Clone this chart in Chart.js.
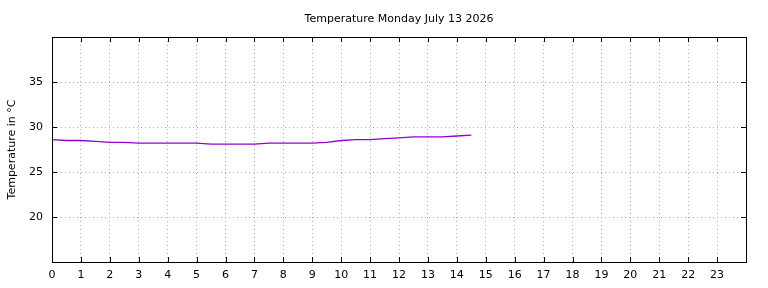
<!DOCTYPE html>
<html>
<head>
<meta charset="utf-8">
<script src="https://cdn.jsdelivr.net/npm/chart.js@4"></script>
<style>
	html, body { margin: 0; padding: 0; background: #fff; }
	#wrap { width: 768px; height: 288px; }
</style>
</head>
<body>
<div id="wrap"><canvas id="temp_chart"></canvas></div>
<script>
"use strict";

// readings, hour of day vs. temperature
const hours = [0, 0.5, 1, 1.5, 2, 2.5, 3, 3.5, 4, 4.5, 5, 5.5, 6, 6.5, 7, 7.5, 8, 8.5, 9, 9.5, 10, 10.5, 11, 11.5, 12, 12.5, 13, 13.5, 14, 14.5];
const temps = [28.6, 28.5, 28.5, 28.4, 28.3, 28.3, 28.2, 28.2, 28.2, 28.2, 28.2, 28.1, 28.1, 28.1, 28.1, 28.2, 28.2, 28.2, 28.2, 28.3, 28.5, 28.6, 28.6, 28.7, 28.8, 28.9, 28.9, 28.9, 29.0, 29.1];

const xTicks = [0, 1, 2, 3, 4, 5, 6, 7, 8, 9, 10, 11, 12, 13, 14, 15, 16, 17, 18, 19, 20, 21, 22, 23];
const yTicks = [20, 25, 30, 35];

const TITLE = 'Temperature Monday July 13 2026';
const FONT = "'DejaVu Sans', sans-serif";
const LINE = "#9400d3";

// gnuplot style: frame all round, ticks pointing inwards on all four sides,
// title centred over the plot area rather than the canvas
const framePlugin = {
	id: 'frame',
	afterDraw: function (chart) {
		const a = chart.chartArea;
		const xs = chart.scales.x;
		const ys = chart.scales.y;
		const ctx = chart.ctx;
		ctx.save();
		ctx.strokeStyle = '#000';
		ctx.lineWidth = 1;
		ctx.beginPath();
		xTicks.forEach(function (v) {
			const px = Math.round(xs.getPixelForValue(v)) + 0.5;
			ctx.moveTo(px, a.bottom); ctx.lineTo(px, a.bottom - 5);
			ctx.moveTo(px, a.top); ctx.lineTo(px, a.top + 5);
		});
		yTicks.forEach(function (v) {
			const py = Math.round(ys.getPixelForValue(v)) + 0.5;
			ctx.moveTo(a.left, py); ctx.lineTo(a.left + 5, py);
			ctx.moveTo(a.right, py); ctx.lineTo(a.right - 5, py);
		});
		ctx.stroke();
		ctx.strokeRect(Math.round(a.left) + 0.5, Math.round(a.top) + 0.5,
			Math.round(a.right - a.left), Math.round(a.bottom - a.top));

		ctx.fillStyle = '#000';
		ctx.font = '11px ' + FONT;
		ctx.textAlign = 'center';
		ctx.textBaseline = 'middle';
		ctx.fillText(TITLE, (a.left + a.right) / 2, 19);
		ctx.restore();
	}
};

new Chart(document.getElementById('temp_chart'), {
	type: 'line',
	data: {
		datasets: [{
			label: 'Temperature',
			data: hours.map(function (h, i) { return { x: h, y: temps[i] }; }),
			borderColor: LINE, borderWidth: 1.3, pointRadius: 0, tension: 0, fill: false
		}]
	},
	options: {
		responsive: true, maintainAspectRatio: false, animation: false,
		layout: { padding: { left: 0, right: 22, top: 37, bottom: 0 } },
		plugins: {
			legend: { display: false },
			tooltip: { enabled: false },
			title: { display: false }
		},
		scales: {
			x: {
				type: 'linear', min: 0, max: 24,
				afterFit: function (s) { s.height = 26; },
				afterBuildTicks: function (s) {
					s.ticks = xTicks.concat([24]).map(function (v) { return { value: v }; });
				},
				ticks: {
					color: '#000', font: { family: FONT, size: 11 }, padding: 7, maxRotation: 0, autoSkip: false,
					callback: function (v) { return v === 24 ? '' : String(v); }
				},
				grid: { color: 'rgba(150,150,150,0.75)', lineWidth: 1, drawTicks: false, tickLength: 0 },
				border: { display: true, color: '#000', width: 1, dash: [1, 3] }
			},
			y: {
				min: 15, max: 40,
				afterFit: function (s) { s.width = 52; },
				afterBuildTicks: function (s) {
					s.ticks = [15].concat(yTicks, [40]).map(function (v) { return { value: v }; });
				},
				ticks: {
					color: '#000', font: { family: FONT, size: 11 }, padding: 9,
					callback: function (v) { return (v === 15 || v === 40) ? '' : String(v); }
				},
				title: {
					display: true, text: 'Temperature in °C', color: '#000',
					font: { family: FONT, size: 11 }, padding: { top: 6, bottom: 0 }
				},
				grid: { color: 'rgba(150,150,150,0.75)', lineWidth: 1, drawTicks: false, tickLength: 0 },
				border: { display: true, color: '#000', width: 1, dash: [1, 3] }
			}
		}
	},
	plugins: [framePlugin]
});
</script>
</body>
</html>
